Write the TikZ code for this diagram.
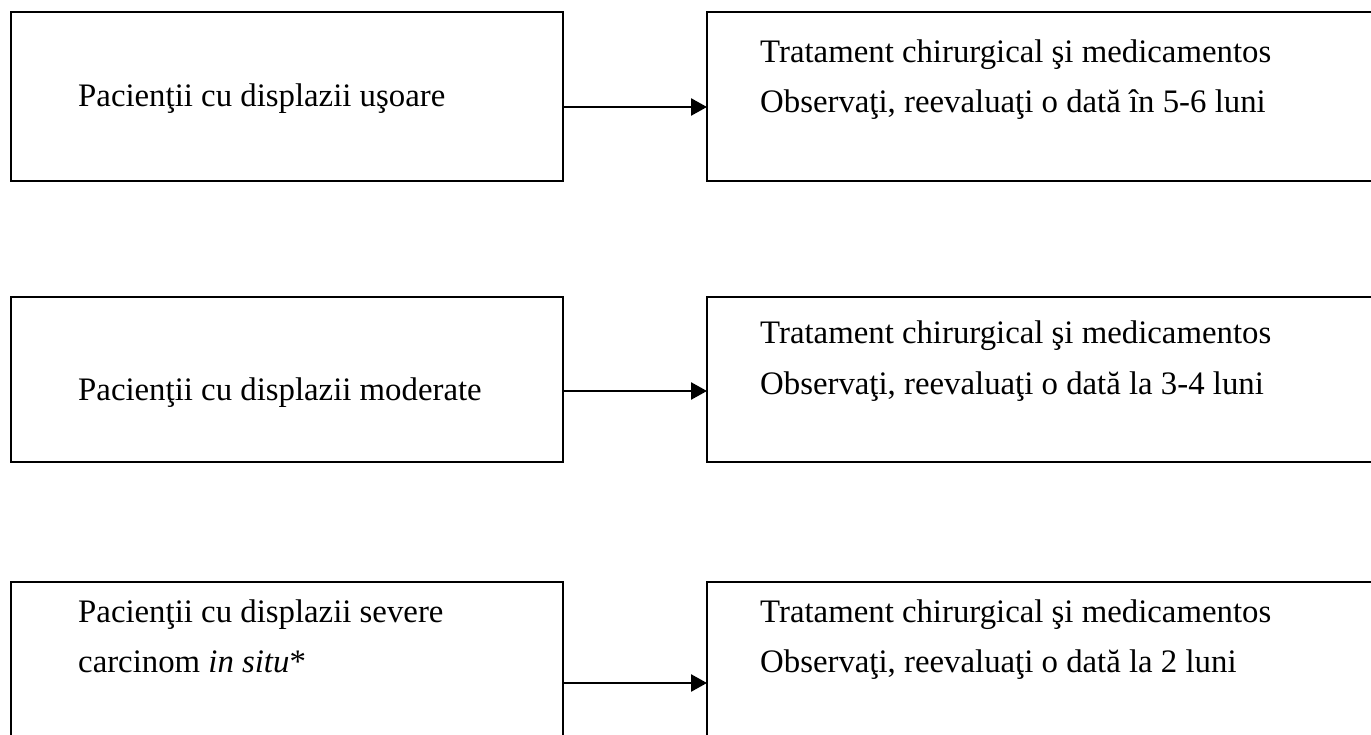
\documentclass[tikz,border=0pt]{standalone}
\usepackage{fontspec}
\setmainfont{Liberation Serif}
\usetikzlibrary{arrows.meta}
\begin{document}
\begin{tikzpicture}[x=1pt,y=-1pt,
  box/.style={draw=black,line width=2pt},
  txt/.style={anchor=base west,inner sep=0pt,font=\fontsize{32.8}{33}\selectfont},
  conn/.style={line width=2.6pt,-{Triangle[length=16pt,width=17pt]}}]
\useasboundingbox (0,0) rectangle (1371,735);
\clip (0,0) rectangle (1371,735);
% row 1
\draw[box] (11,12) rectangle (563,181);
\draw[box] (707,12) rectangle (1400,181);
\node[txt] (l1) at (78,107) {Pacienţii cu displazii uşoare};
\node[txt] (r1a) at (760,63) {Tratament chirurgical şi medicamentos};
\node[txt] (r1b) at (760,113) {Observaţi, reevaluaţi o dată în 5-6 luni};
\coordinate (a1s) at (563,107);
\coordinate (a1e) at (707,107);
\draw[conn] (a1s) -- (a1e);
% row 2
\draw[box] (11,297) rectangle (563,462);
\draw[box] (707,297) rectangle (1400,462);
\node[txt] (l2) at (78,400) {Pacienţii cu displazii moderate};
\node[txt] (r2a) at (760,344) {Tratament chirurgical şi medicamentos};
\node[txt] (r2b) at (760,394) {Observaţi, reevaluaţi o dată la 3-4 luni};
\coordinate (a2s) at (563,391);
\coordinate (a2e) at (707,391);
\draw[conn] (a2s) -- (a2e);
% row 3
\draw[box] (11,582) rectangle (563,760);
\draw[box] (707,582) rectangle (1400,760);
\node[txt] (l3a) at (78,622) {Pacienţii cu displazii severe};
\node[txt] (l3b) at (78,672) {carcinom \textit{in situ}*};
\node[txt] (r3a) at (760,622) {Tratament chirurgical şi medicamentos};
\node[txt] (r3b) at (760,672) {Observaţi, reevaluaţi o dată la 2 luni};
\coordinate (a3s) at (563,683);
\coordinate (a3e) at (707,683);
\draw[conn] (a3s) -- (a3e);
\end{tikzpicture}
\end{document}
